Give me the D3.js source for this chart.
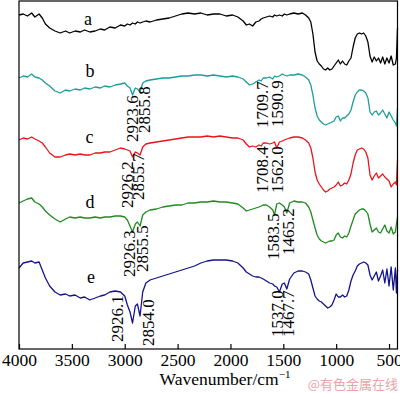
<!DOCTYPE html>
<html>
<head>
<meta charset="utf-8">
<script src="https://cdn.jsdelivr.net/npm/d3@7"></script>
<style>
  body { margin: 0; background: #fff; }
  svg { display: block; }
</style>
</head>
<body>
<div id="chart"></div>
<script>
// Data (transmittance in arbitrary units, curves are offset)
const wavenumbers = [4000, 3960, 3920, 3880, 3850, 3810, 3780, 3750, 3710, 3660,
  3610, 3560, 3520, 3470, 3420, 3380, 3330, 3280, 3230, 3190,
  3140, 3090, 3040, 3000, 2975, 2950, 2926, 2900, 2880, 2855,
  2830, 2800, 2760, 2700, 2640, 2580, 2520, 2460, 2400, 2340,
  2280, 2220, 2160, 2100, 2040, 1980, 1930, 1880, 1850, 1820,
  1790, 1760, 1730, 1709, 1690, 1660, 1630, 1600, 1583, 1562,
  1537, 1510, 1490, 1467, 1440, 1400, 1360, 1320, 1290, 1260,
  1240, 1220, 1200, 1180, 1160, 1140, 1120, 1100, 1080, 1060,
  1040, 1020, 1000, 980, 960, 940, 920, 900, 880, 860,
  840, 820, 800, 780, 760, 740, 720, 700, 680, 660,
  640, 620, 600, 580, 560, 540, 520, 500, 480, 460,
  440, 430, 420];

const curveA = [334, 335, 333, 336, 332, 335, 331, 325, 321, 318,
  316, 318, 316, 318, 317, 319, 317, 318, 320, 319,
  322, 321, 324, 323, 325, 324, 326, 325, 327, 326,
  327, 328, 327, 329, 330, 331, 333, 335, 336, 335,
  336, 334, 335, 335, 333, 334, 332, 328, 324, 325,
  323, 327, 328, 330, 331, 332, 333, 332, 334, 333,
  334, 333, 335, 334, 335, 336, 335, 336, 334, 331,
  327, 315, 297, 288, 285, 283, 280, 279, 281, 279,
  280, 283, 286, 289, 285, 288, 285, 284, 288, 291,
  302, 311, 315, 316, 315, 316, 313, 307, 293, 287,
  292, 288, 291, 286, 292, 285, 291, 286, 293, 284,
  285, 291, 321];

const curveB = [271, 273, 272, 275, 272, 271, 269, 266, 263, 258,
  256, 259, 258, 260, 259, 261, 260, 262, 261, 263,
  262, 264, 265, 266, 263, 261, 254, 261, 260, 257,
  266, 268, 269, 270, 271, 271, 272, 273, 273, 274,
  274, 273, 274, 273, 272, 273, 272, 270, 267, 264,
  265, 267, 269, 268, 271, 271, 272, 270, 273, 272,
  273, 275, 274, 273, 274, 274, 275, 274, 272, 269,
  264, 254, 241, 233, 229, 227, 225, 224, 225, 226,
  227, 228, 232, 233, 228, 231, 231, 233, 235, 239,
  247, 254, 257, 259, 259, 258, 256, 251, 237, 234,
  237, 238, 234, 236, 239, 235, 231, 237, 233, 229,
  226, 223, 241];

const curveC = [209, 211, 210, 212, 210, 208, 206, 202, 196, 192,
  192, 194, 195, 194, 195, 194, 194, 196, 196, 197,
  197, 199, 201, 200, 199, 198, 192, 197, 196, 194,
  202, 205, 206, 207, 208, 209, 210, 211, 212, 212,
  212, 213, 212, 213, 212, 211, 211, 209, 205, 202,
  203, 202, 204, 203, 206, 206, 205, 206, 207, 201,
  207, 208, 209, 210, 211, 212, 212, 211, 209, 206,
  201, 191, 177, 169, 165, 162, 159, 157, 158, 160,
  161, 162, 164, 167, 163, 164, 166, 165, 169, 175,
  186, 194, 199, 200, 201, 200, 197, 191, 174, 169,
  173, 176, 171, 173, 175, 172, 170, 168, 162, 165,
  167, 164, 189];

const curveD = [146, 148, 150, 151, 147, 145, 142, 138, 134, 130,
  127, 130, 132, 131, 132, 131, 131, 132, 131, 132,
  132, 133, 133, 132, 129, 123, 117, 125, 127, 123,
  134, 137, 139, 140, 142, 143, 144, 144, 146, 146,
  147, 147, 148, 147, 147, 146, 145, 141, 138, 139,
  140, 141, 142, 143, 144, 144, 142, 139, 134, 145,
  146, 144, 142, 136, 146, 148, 147, 147, 146, 142,
  137, 129, 121, 114, 110, 108, 107, 106, 107, 108,
  108, 109, 114, 116, 112, 111, 113, 112, 116, 123,
  129, 135, 137, 139, 140, 140, 138, 135, 125, 117,
  119, 121, 117, 116, 120, 124, 118, 116, 122, 115,
  117, 125, 132];

const curveE = [81, 86, 87, 88, 86, 87, 79, 71, 63, 57,
  54, 55, 53, 54, 51, 52, 49, 51, 53, 54,
  57, 58, 57, 53, 44, 37, 26, 43, 45, 33,
  57, 66, 69, 71, 73, 75, 77, 79, 81, 83,
  86, 88, 89, 89, 89, 88, 86, 81, 77, 75,
  73, 72, 72, 71, 70, 68, 66, 65, 63, 62,
  57, 65, 66, 60, 70, 76, 78, 78, 77, 75,
  69, 61, 53, 50, 48, 47, 45, 43, 41, 42,
  44, 49, 55, 52, 52, 54, 52, 53, 59, 68,
  74, 78, 83, 85, 86, 87, 86, 84, 74, 69,
  73, 77, 68, 73, 79, 66, 80, 63, 82, 59,
  81, 56, 79];

const curveNames = ["a", "b", "c", "d", "e"];
const curveColors = ["#000000", "#1c9c9c", "#e8141a", "#1f8a1f", "#14148c"];
const tickValues = [4000, 3500, 3000, 2500, 2000, 1500, 1000, 500];
const peakLabels = ["2923.6", "2855.8", "1709.7", "1590.9",
  "2926.2", "2855.7", "1708.4", "1562.0",
  "2926.3", "2855.5", "1583.5", "1465.2",
  "2926.1", "2854.0", "1537.0", "1467.7"];

// layout of text (pixel positions: column centre, bottom of rotated text)
const peakLayout = [[132, 142], [144, 133], [262, 128], [277, 127],
  [127, 208], [138, 200], [262, 193], [277, 193],
  [129, 277], [142, 272], [273, 260], [288, 255],
  [117, 342], [148, 346], [277, 337], [288, 337]];
const nameLayout = [[88, 25], [90, 77], [89.5, 143], [90, 208], [91, 283]];

const W = 400, H = 393;
const margin = {top: 1, right: 397.5, bottom: 349, left: 19};
const serif = "'Liberation Serif', 'Times New Roman', serif";

const svg = d3.select("#chart")
  .append("svg")
    .attr("width", W)
    .attr("height", H);

const x = d3.scaleLinear()
  .domain([4000, 420])
  .range([margin.left, margin.right]);

const y = d3.scaleLinear()
  .domain([0, 348])
  .range([margin.bottom, margin.top]);

const curves = [curveA, curveB, curveC, curveD, curveE];

const line = d3.line()
  .x(d => x(d[0]))
  .y(d => y(d[1]));

// Add the spectra
svg.append("g")
  .selectAll("path")
  .data(curves)
  .join("path")
    .attr("fill", "none")
    .attr("stroke", (d, i) => curveColors[i])
    .attr("stroke-width", 1.3)
    .attr("stroke-linejoin", "round")
    .attr("d", d => line(d.map((v, i) => [wavenumbers[i], v])));

// Frame
svg.append("rect")
  .attr("x", margin.left)
  .attr("y", margin.top)
  .attr("width", margin.right - margin.left)
  .attr("height", margin.bottom - margin.top)
  .attr("fill", "none")
  .attr("stroke", "#000")
  .attr("stroke-width", 1.2);

// X axis, ticks pointing inwards
const xAxis = svg.append("g")
  .attr("transform", `translate(0,${margin.bottom})`)
  .call(d3.axisBottom(x).tickValues(tickValues).tickFormat(d3.format("d"))
    .tickSize(-5).tickPadding(5));
xAxis.select(".domain").remove();
xAxis.selectAll(".tick line").attr("stroke", "#000").attr("stroke-width", 1.2);
xAxis.selectAll(".tick text")
  .attr("fill", "#000")
  .style("font-family", serif)
  .style("font-size", "17.5px");

// Axis title
const title = svg.append("text")
  .attr("x", 225)
  .attr("y", 385)
  .attr("text-anchor", "middle")
  .style("font-family", serif)
  .style("font-size", "17.5px")
  .attr("fill", "#000")
  .text("Wavenumber/cm");
title.append("tspan")
  .attr("dy", -7)
  .style("font-size", "11px")
  .text("\u22121");

// Curve names
svg.append("g")
  .selectAll("text")
  .data(curveNames)
  .join("text")
    .attr("x", (d, i) => nameLayout[i][0])
    .attr("y", (d, i) => nameLayout[i][1])
    .attr("text-anchor", "middle")
    .style("font-family", serif)
    .style("font-size", "18px")
    .text(d => d);

// Peak annotations, rotated
svg.append("g")
  .selectAll("text")
  .data(peakLabels)
  .join("text")
    .attr("transform", (d, i) => `translate(${peakLayout[i][0]},${peakLayout[i][1]}) rotate(-90)`)
    .attr("dy", "0.35em")
    .attr("text-anchor", "start")
    .style("font-family", serif)
    .style("font-size", "17px")
    .text(d => d);

// Watermark
svg.append("text")
  .attr("x", 398)
  .attr("y", 389)
  .attr("text-anchor", "end")
  .attr("fill", "#eba3a8")
  .style("font-family", "'Noto Sans CJK SC', sans-serif")
  .style("font-size", "13px")
  .text("@有色金属在线");
</script>
</body>
</html>
